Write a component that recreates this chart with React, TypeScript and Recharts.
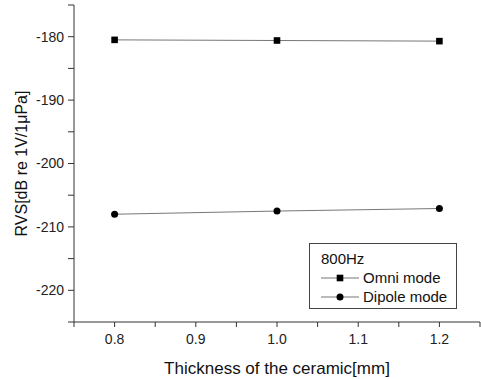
import React from 'react';
import { LineChart, Line, XAxis, YAxis, Legend, Label } from 'recharts';

const thickness = [0.8, 1.0, 1.2];
const omniMode = [-180.5, -180.6, -180.7];
const dipoleMode = [-208.0, -207.5, -207.1];
const xTicks = [0.75, 0.8, 0.85, 0.9, 0.95, 1.0, 1.05, 1.1, 1.15, 1.2, 1.25];
const yTicks = [-225, -220, -215, -210, -205, -200, -195, -190, -185, -180, -175];
const legendTitle = '800Hz';
const seriesNames = ['Omni mode', 'Dipole mode'];

const data = thickness.map((t, i) => ({ t, omni: omniMode[i], dipole: dipoleMode[i] }));

const FONT = '"Liberation Sans", Arial, sans-serif';
const LINE_COLOR = '#777777';
const AXIS_COLOR = '#333333';

const SquareDot = (props: any) => {
  const { cx, cy, index } = props;
  if (cx == null || cy == null) return <g key={`s${index}`} />;
  return <rect key={`s${index}`} x={cx - 3.3} y={cy - 3.3} width={6.6} height={6.6} fill="#000" />;
};
const CircleDot = (props: any) => {
  const { cx, cy, index } = props;
  if (cx == null || cy == null) return <g key={`c${index}`} />;
  return <circle key={`c${index}`} cx={cx} cy={cy} r={3.5} fill="#000" />;
};

const LegendBox = () => (
  <div
    style={{
      width: 148,
      height: 66,
      boxSizing: 'border-box',
      border: '1px solid #444',
      background: '#fff',
      fontFamily: FONT,
      fontSize: 15,
      color: '#111',
      position: 'relative',
    }}
  >
    <div style={{ position: 'absolute', left: 11, top: 6, lineHeight: '17px' }}>{legendTitle}</div>
    {seriesNames.map((name, i) => (
      <div key={name} style={{ position: 'absolute', left: 11, top: 25 + i * 19, height: 18, display: 'flex', alignItems: 'center' }}>
        <svg width={38} height={18} style={{ display: 'block' }}>
          <line x1={0} y1={9} x2={38} y2={9} stroke={LINE_COLOR} strokeWidth={1} />
          {i === 0 ? (
            <rect x={15.7} y={5.7} width={6.6} height={6.6} fill="#000" />
          ) : (
            <circle cx={19} cy={9} r={3.5} fill="#000" />
          )}
        </svg>
        <span style={{ marginLeft: 4, lineHeight: '18px' }}>{name}</span>
      </div>
    ))}
  </div>
);

const YLabel = (props: any) => {
  const vb = props.viewBox || {};
  const x = (vb.x || 0) + 21;
  const y = (vb.y || 0) + (vb.height || 0) / 2;
  return (
    <text
      x={x}
      y={y}
      transform={`rotate(-90, ${x}, ${y})`}
      textAnchor="middle"
      dominantBaseline="central"
      fontFamily={FONT}
      fontSize={16}
      fill="#111"
    >
      RVS[dB re 1V/1μPa]
    </text>
  );
};

export default function App() {
  return (
    <div style={{ position: 'absolute', left: 0, top: 0, width: 481, height: 380, background: '#fff' }}>
      <LineChart width={481} height={380} data={data} margin={{ top: 5, right: 1, left: 0, bottom: 0 }}>
        <XAxis
          dataKey="t"
          type="number"
          domain={[0.75, 1.25]}
          ticks={xTicks}
          interval={0}
          tickFormatter={(v: number) => (Math.round(v * 100) % 10 === 0 ? v.toFixed(1) : '')}
          height={58}
          tickSize={5}
          tickMargin={7}
          stroke={AXIS_COLOR}
          tick={{ fill: '#222', fontSize: 14, fontFamily: FONT }}
        >
          <Label value="Thickness of the ceramic[mm]" position="insideBottom" offset={6} style={{ fontFamily: FONT, fontSize: 17, fill: '#111' }} />
        </XAxis>
        <YAxis
          type="number"
          domain={[-225, -175]}
          ticks={yTicks}
          interval={0}
          tickFormatter={(v: number) => (v % 10 === 0 ? String(v) : '')}
          width={74}
          tickSize={6}
          tickMargin={4}
          stroke={AXIS_COLOR}
          tick={{ fill: '#222', fontSize: 14, fontFamily: FONT }}
        >
          <Label content={<YLabel />} />
        </YAxis>
        <Legend
          layout="horizontal"
          verticalAlign="middle"
          align="center"
          content={<LegendBox />}
          wrapperStyle={{ position: 'absolute', left: 309, top: 243, width: 148, height: 66 }}
        />
        <Line dataKey="omni" stroke={LINE_COLOR} strokeWidth={1} dot={<SquareDot />} isAnimationActive={false} />
        <Line dataKey="dipole" stroke={LINE_COLOR} strokeWidth={1} dot={<CircleDot />} isAnimationActive={false} />
      </LineChart>
    </div>
  );
}
